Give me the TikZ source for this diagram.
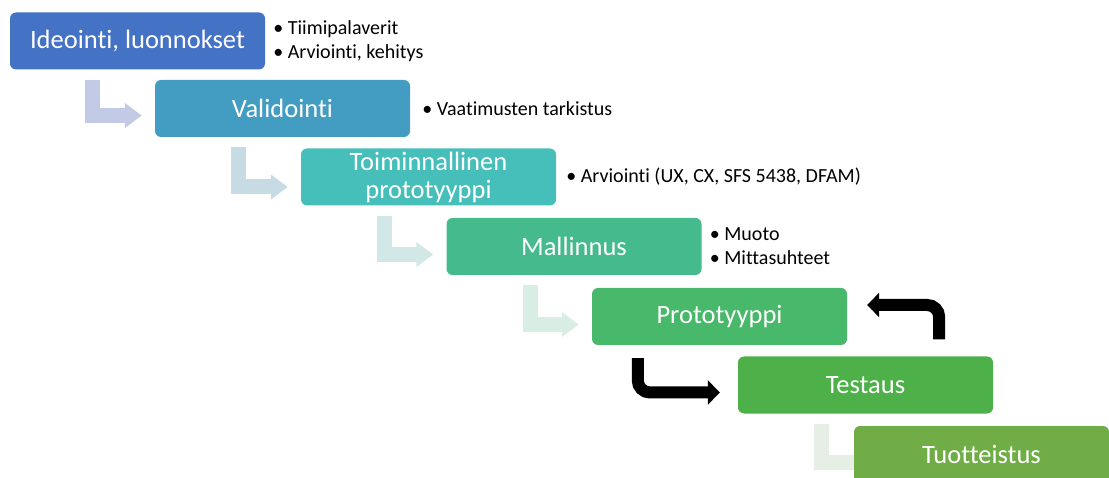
\documentclass[tikz,border=0pt]{standalone}
\usepackage{fontspec}
\setmainfont{Carlito}[Ligatures=NoCommon]
\usetikzlibrary{arrows.meta,backgrounds}

\definecolor{vaihe1}{HTML}{4472C4}
\definecolor{vaihe2}{HTML}{439CC2}
\definecolor{vaihe3}{HTML}{46BFBA}
\definecolor{vaihe4}{HTML}{45BA8C}
\definecolor{vaihe5}{HTML}{48B86A}
\definecolor{vaihe6}{HTML}{4DB048}
\definecolor{vaihe7}{HTML}{70AD47}
\definecolor{nuoli1}{HTML}{C2CAE6}
\definecolor{nuoli2}{HTML}{C7DBE4}
\definecolor{nuoli3}{HTML}{D2E8E6}
\definecolor{nuoli4}{HTML}{D8EDE3}
\definecolor{nuoli5}{HTML}{E6EEE6}

\tikzset{
  vaihe/.style={rounded corners=6pt, minimum width=255pt, minimum height=57pt,
    inner sep=0pt, align=center, text=white, font=\fontsize{26.5}{28}\selectfont},
  lista/.style={anchor=west, align=left, inner sep=0pt, font=\fontsize{20}{24}\selectfont},
  nuoli/.style={line width=15pt, line join=miter, -{Triangle[length=17pt,width=24pt]}},
  paluu/.style={line width=12pt, rounded corners=12pt, -{Triangle[length=12pt,width=24pt]}}
}

\begin{document}
\begin{tikzpicture}[x=1pt,y=-1pt]
                      \clip (0,0) rectangle (1109,478);
                      \node[vaihe, fill=vaihe1] (ideointi) at (137.5,41) {Ideointi, luonnokset};
                      \node[vaihe, fill=vaihe2] (validointi) at (282.5,108.5) {Validointi};
                      \node[vaihe, fill=vaihe3] (toiminnallinen) at (428.5,177) {Toiminnallinen\\prototyyppi};
                      \node[vaihe, fill=vaihe4] (mallinnus) at (574,246.5) {Mallinnus};
                      \node[vaihe, fill=vaihe5] (proto) at (719.5,316.5) {Prototyyppi};
                      \node[vaihe, fill=vaihe6] (testaus) at (865.5,385) {Testaus};
                      \node[vaihe, fill=vaihe7] (tuote) at (981.5,454.5) {Tuotteistus};
                      % tehtavat
                      \node[lista] (l1) at ([xshift=8pt]ideointi.east) {• Tiimipalaverit\\• Arviointi, kehitys};
                      \node[lista] (l2) at ([xshift=12pt]validointi.east) {• Vaatimusten tarkistus};
                      \node[lista] (l3) at ([xshift=10pt]toiminnallinen.east) {• Arviointi (UX, CX, SFS 5438, DFAM)};
                      \node[lista] (l4) at ([xshift=8pt]mallinnus.east) {• Muoto\\• Mittasuhteet};
                      \begin{scope}[on background layer]
                      \draw[nuoli, nuoli1] ([xshift=83pt,yshift=-10pt]ideointi.south west) |- ([xshift=-13pt,yshift=-7pt]validointi.west);
                      \draw[nuoli, nuoli2] ([xshift=84pt,yshift=-10pt]validointi.south west) |- ([xshift=-13pt,yshift=-10pt]toiminnallinen.west);
                      \draw[nuoli, nuoli3] ([xshift=84pt,yshift=-10pt]toiminnallinen.south west) |- ([xshift=-13pt,yshift=-8pt]mallinnus.west);
                      \draw[nuoli, nuoli4] ([xshift=84pt,yshift=-10pt]mallinnus.south west) |- ([xshift=-13pt,yshift=-8pt]proto.west);
                      \draw[nuoli, nuoli5] ([xshift=84pt,yshift=-10pt]testaus.south west) |- ([xshift=20pt,yshift=-8pt]tuote.west);
                      \end{scope}
                      % silmukka
                      \draw[paluu] ([xshift=46pt,yshift=-13pt]proto.south west) |- ([xshift=-18pt,yshift=-7.5pt]testaus.west);
                      \draw[paluu] ([xshift=-54pt,yshift=17pt]testaus.north east) |- ([xshift=20pt,yshift=11.5pt]proto.east);
                  \end{tikzpicture}
\end{document}
